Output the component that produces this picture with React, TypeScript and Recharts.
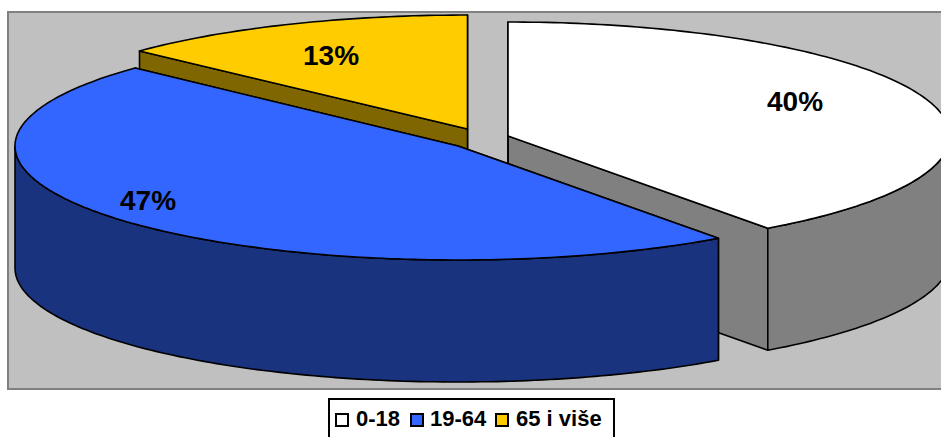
// App.tsx
import React from "react";
import { PieChart, Pie, Legend } from "recharts";

const categories = ["0-18", "19-64", "65 i više"];
const shares = [40, 47, 13];
// back-to-front, so the blue slice ends up over the other two
const drawOrder = [0, 2, 1];

const topColors = ["#FFFFFF", "#3366FF", "#FFCC00"];
const wallColors = ["#808080", "#19337F", "#806600"];

// where each exploded slice sits and how wide its flattened ellipse is
const sliceCx = [508, 458, 467.5];
const sliceCy = [136, 146, 129];
const sliceRx = [442, 443, 450];
const labelX = [795, 148, 331];
const labelY = [101, 200, 55];

const RY = 114;
const DEPTH = 122;
const rad = Math.PI / 180;

const pieData = drawOrder.map((slot) => ({
  name: categories[slot],
  value: shares[slot],
  slot,
}));

const arcPoints = (slot: number, from: number, to: number, drop: number) => {
  const pts: string[] = [];
  const steps = Math.max(1, Math.ceil(to - from));
  for (let i = 0; i <= steps; i++) {
    const a = (from + ((to - from) * i) / steps) * rad;
    const x = sliceCx[slot] + sliceRx[slot] * Math.cos(a);
    const y = sliceCy[slot] - RY * Math.sin(a) + drop;
    pts.push(`${x.toFixed(1)},${y.toFixed(1)}`);
  }
  return pts;
};

const Slice3D = (props: any) => {
  const slot = drawOrder[props.index];
  const { startAngle, endAngle } = props;
  const lo = Math.min(startAngle, endAngle);
  const hi = Math.max(startAngle, endAngle);
  const ax = sliceCx[slot];
  const ay = sliceCy[slot];
  const line = { stroke: "#000", strokeWidth: 1.6, strokeLinejoin: "round" as const };

  const walls = [lo, hi].map((angle) => {
    const [edge] = arcPoints(slot, angle, angle, 0);
    const [edgeLow] = arcPoints(slot, angle, angle, DEPTH);
    return `${ax},${ay} ${edge} ${edgeLow} ${ax},${ay + DEPTH}`;
  });

  // the outer rim only shows on the front half of the ellipse
  const rims: string[] = [];
  [-1, 0, 1].forEach((k) => {
    const from = Math.max(lo, -180 + 360 * k);
    const to = Math.min(hi, 360 * k);
    if (from < to) {
      const top = arcPoints(slot, from, to, 0);
      const bottom = arcPoints(slot, from, to, DEPTH).reverse();
      rims.push([...top, ...bottom].join(" "));
    }
  });

  const top = [`${ax},${ay}`, ...arcPoints(slot, lo, hi, 0)].join(" ");

  return (
    <g>
      {walls.map((w, i) => (
        <polygon key={i} points={w} fill={wallColors[slot]} {...line} />
      ))}
      {rims.map((r, i) => (
        <polygon key={i} points={r} fill={wallColors[slot]} {...line} />
      ))}
      <polygon points={top} fill={topColors[slot]} {...line} />
    </g>
  );
};

const renderLabel = (props: any) => {
  const slot = drawOrder[props.index];
  return (
    <text
      x={labelX[slot]}
      y={labelY[slot]}
      textAnchor="middle"
      dominantBaseline="central"
      fontFamily="Liberation Sans"
      fontWeight="bold"
      fontSize={28}
      fill="#000"
    >
      {shares[slot]}%
    </text>
  );
};

const legendSwatchX = [5, 80, 165];
const legendTextX = [26, 100, 186];

const LegendBox = () => (
  <div
    style={{
      position: "relative",
      width: 283,
      height: 50,
      background: "#fff",
      border: "2px solid #000",
      fontFamily: "Liberation Sans",
      fontWeight: "bold",
      fontSize: 22,
      color: "#000",
    }}
  >
    {categories.map((c, i) => (
      <React.Fragment key={c}>
        <div
          style={{
            position: "absolute",
            left: legendSwatchX[i],
            top: 13,
            width: 10,
            height: 10,
            background: topColors[i],
            border: "2px solid #000",
          }}
        />
        <div
          style={{
            position: "absolute",
            left: legendTextX[i],
            top: 6,
            lineHeight: "25px",
            whiteSpace: "nowrap",
          }}
        >
          {c}
        </div>
      </React.Fragment>
    ))}
  </div>
);

export default function App() {
  return (
    <div
      style={{
        position: "absolute",
        left: 0,
        top: 0,
        width: 941,
        height: 437,
        overflow: "hidden",
        background: "#fff",
      }}
    >
      <div
        style={{
          position: "absolute",
          left: 7,
          top: 11,
          width: 940,
          height: 375,
          background: "#C0C0C0",
          border: "2px solid #808080",
        }}
      />
      <PieChart width={941} height={437} margin={{ top: 0, right: 0, bottom: 0, left: 0 }}>
        <Pie
          data={pieData}
          dataKey="value"
          nameKey="name"
          cx={480}
          cy={135}
          outerRadius={450}
          startAngle={-54}
          endAngle={306}
          stroke="none"
          shape={Slice3D}
          label={renderLabel}
          labelLine={false}
          isAnimationActive={false}
        />
        <Legend
          content={LegendBox}
          wrapperStyle={{ position: "absolute", left: 328, top: 398, width: 287, bottom: "auto" }}
        />
      </PieChart>
    </div>
  );
}
